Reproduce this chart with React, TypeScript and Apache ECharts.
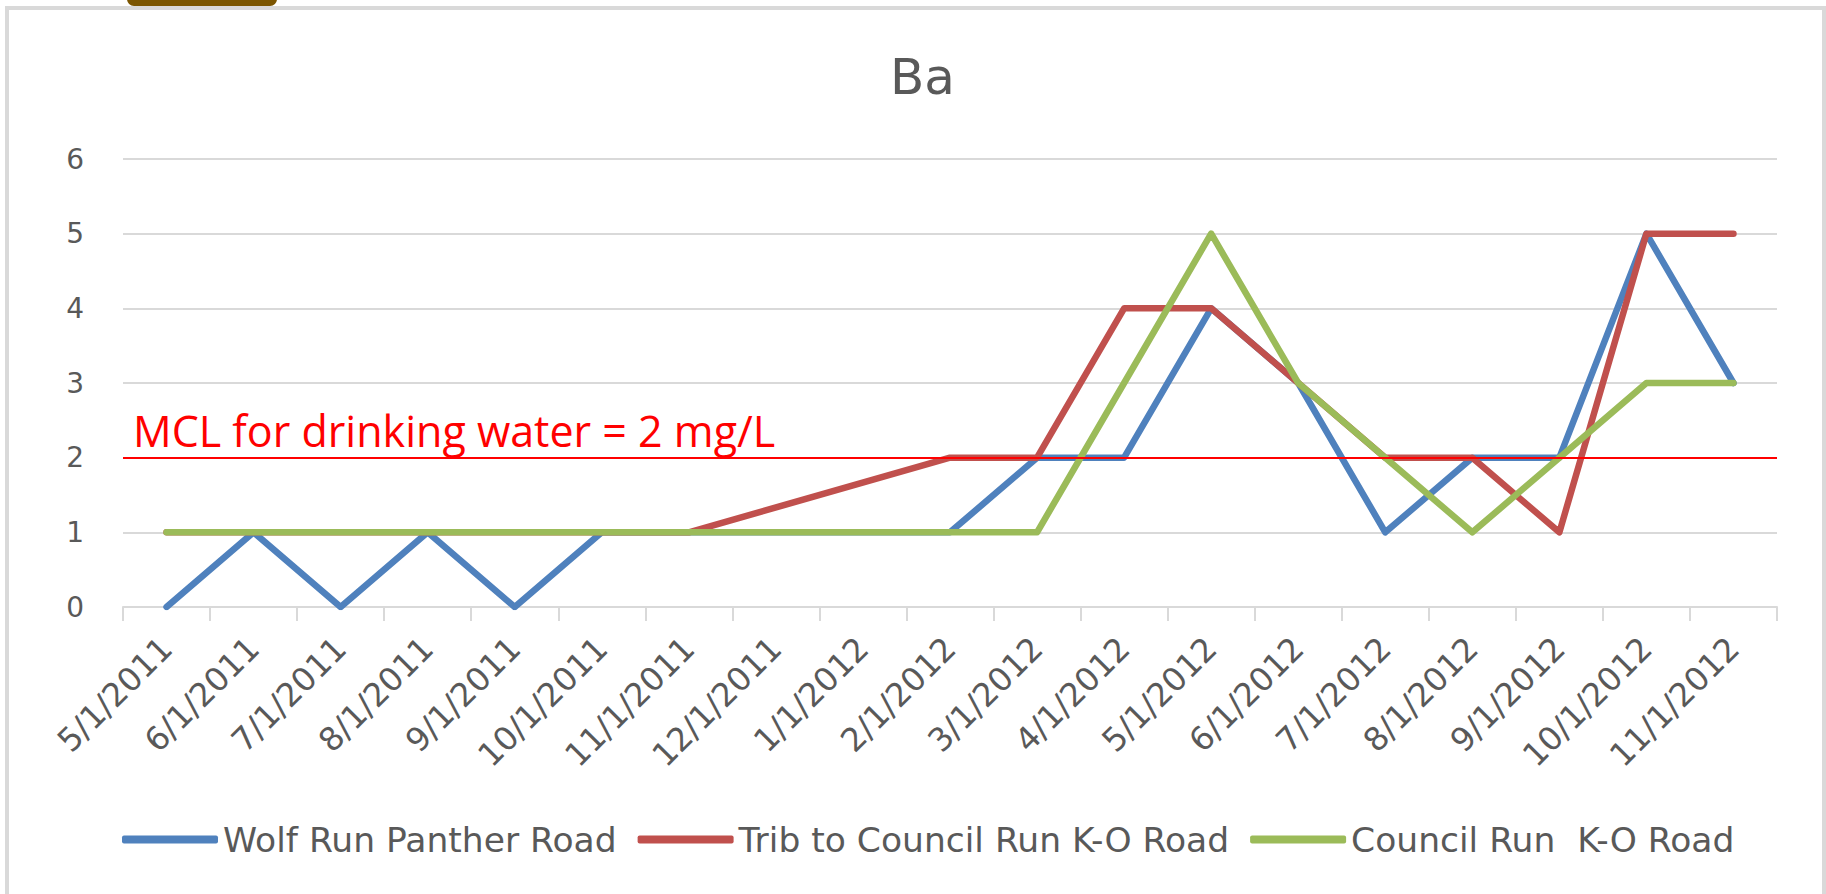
import React, { useEffect, useRef } from 'react';
import * as echarts from 'echarts';

const categories = [
  '5/1/2011', '6/1/2011', '7/1/2011', '8/1/2011', '9/1/2011', '10/1/2011', '11/1/2011',
  '12/1/2011', '1/1/2012', '2/1/2012', '3/1/2012', '4/1/2012', '5/1/2012', '6/1/2012',
  '7/1/2012', '8/1/2012', '9/1/2012', '10/1/2012', '11/1/2012',
];
const wolfRunPanther = [0, 1, 0, 1, 0, 1, 1, null, null, 1, 2, 2, 4, 3, 1, 2, 2, 5, 3];
const tribCouncilRun = [1, 1, 1, 1, 1, 1, 1, null, null, 2, 2, 4, 4, 3, 2, 2, 1, 5, 5];
const councilRunKO = [1, 1, 1, 1, 1, 1, 1, null, null, 1, 1, 3, 5, 3, 2, 1, 2, 3, 3];
const seriesNames = ['Wolf Run Panther Road', 'Trib to Council Run K-O Road', 'Council Run  K-O Road'];
const seriesColors = ['#4f81bd', '#c0504d', '#9bbb59'];
const yMin = 0;
const yMax = 6;
const yInterval = 1;
const mclValue = 2;
const mclLabel = 'MCL for drinking water = 2 mg/L';
const chartTitle = 'Ba';

export default function App() {
  const ref = useRef<HTMLDivElement>(null);
  useEffect(() => {
    document.body.style.margin = '0';
    const chart = echarts.init(ref.current!, null, { renderer: 'svg' });
    const font = 'DejaVu Sans';
    const mclFont = 'Open Sans';
    const gray = '#595959';
    const dataSets = [wolfRunPanther, tribCouncilRun, councilRunKO];
    chart.setOption({
      animation: false,
      backgroundColor: '#ffffff',
      title: {
        text: chartTitle,
        left: 885,
        top: 47,
        textStyle: { fontFamily: font, fontSize: 50, fontWeight: 'normal', color: gray },
      },
      grid: { left: 123, right: 49, top: 159, bottom: 287, containLabel: false },
      legend: {
        left: 117,
        top: 817,
        icon: 'roundRect',
        itemWidth: 96,
        itemHeight: 8,
        itemGap: 21,
        textStyle: { fontFamily: font, fontSize: 34.5, color: gray },
        data: seriesNames,
      },
      xAxis: {
        type: 'category',
        data: categories,
        boundaryGap: true,
        axisLine: { lineStyle: { color: '#d9d9d9', width: 2 } },
        axisTick: { show: true, length: 14, lineStyle: { color: '#d9d9d9', width: 2 } },
        axisLabel: {
          rotate: 45,
          interval: 0,
          margin: 36,
          fontFamily: font,
          fontSize: 32.5,
          color: gray,
        },
      },
      yAxis: {
        type: 'value',
        min: yMin,
        max: yMax,
        interval: yInterval,
        axisLine: { show: false },
        axisTick: { show: false },
        splitLine: { lineStyle: { color: '#d9d9d9', width: 2 } },
        axisLabel: { margin: 39, fontFamily: font, fontSize: 28, color: gray },
      },
      graphic: [
        {
          type: 'rect',
          shape: { x: 7, y: 8, width: 1817, height: 920 },
          style: { fill: 'none', stroke: '#d9d9d9', lineWidth: 4 },
          z: 0,
        },
        {
          type: 'rect',
          shape: { x: 127, y: -12, width: 150, height: 18, r: 7 },
          style: { fill: '#7b5500' },
        },
        {
          type: 'text',
          left: 133,
          top: 409,
          style: { text: mclLabel, fill: '#ff0000', font: `43px "${mclFont}"` },
          z: 100,
        },
      ],
      series: dataSets.map((d, i) => ({
        name: seriesNames[i],
        type: 'line',
        data: d,
        color: seriesColors[i],
        connectNulls: true,
        symbol: 'none',
        lineStyle: { width: 6.5, color: seriesColors[i], cap: 'round', join: 'round' },
        z: 2 + i,
        ...(i === 2
          ? {
              markLine: {
                silent: true,
                symbol: 'none',
                label: { show: false },
                lineStyle: { color: '#ff0000', width: 2, type: 'solid' },
                data: [{ yAxis: mclValue }],
              },
            }
          : {}),
      })),
    });
    return () => chart.dispose();
  }, []);
  return <div ref={ref} style={{ width: 1826, height: 894 }} />;
}
